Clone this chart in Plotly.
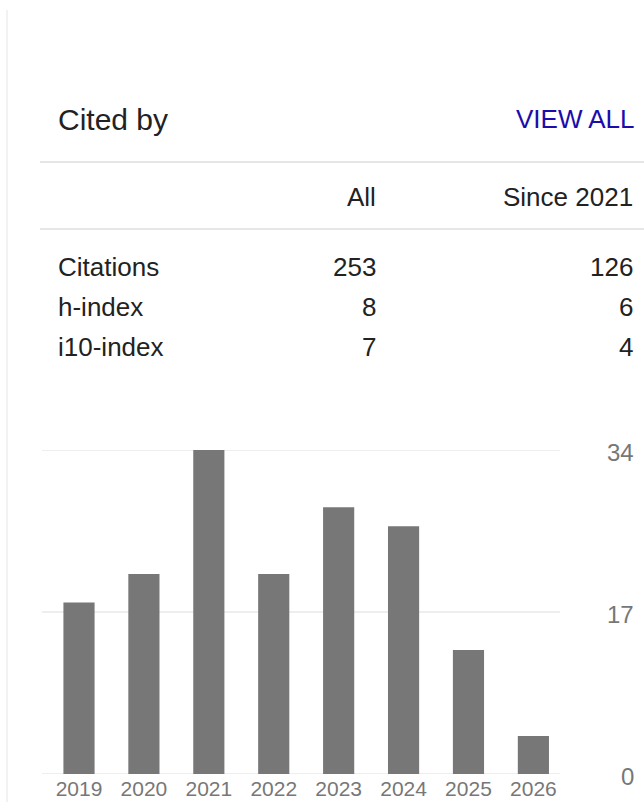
import plotly.graph_objects as go

# ---- data ----
years = ["2019", "2020", "2021", "2022", "2023", "2024", "2025", "2026"]
citations_per_year = [18, 21, 34, 21, 28, 26, 13, 4]
y_ticks = [0, 17, 34]

header_cols = ["All", "Since 2021"]
row_labels = ["Citations", "h-index", "i10-index"]
all_vals = ["253", "8", "7"]
since_vals = ["126", "6", "4"]

# ---- layout geometry (pixels) ----
W, H = 644, 802
L, R = 42, 560          # plot area x extent
T, B = 450, 774         # plot area y extent (34 -> T, 0 -> B)
FONT = "Arial, Liberation Sans, sans-serif"


def px(x):
    return (x - L) / (R - L)


def py(y):
    return (B - y) / (B - T)


fig = go.Figure()
fig.add_trace(go.Bar(
    x=list(range(len(years))),
    y=citations_per_year,
    marker=dict(color="#777777", line=dict(width=0)),
    width=0.48,
    hoverinfo="x+y",
))

annotations = []


def txt(text, x, y, size, color="#222222", anchor="left"):
    annotations.append(dict(
        text=text, x=px(x), y=py(y), xref="paper", yref="paper",
        xanchor=anchor, yanchor="middle", showarrow=False,
        font=dict(family=FONT, size=size, color=color),
    ))


txt("Cited by", 56, 119, 30)
txt("VIEW ALL", 637, 119, 26, color="#1a0dab", anchor="right")
txt(header_cols[0], 378, 197, 26, anchor="right")
txt(header_cols[1], 635, 197, 26, anchor="right")
row_y = [267, 307, 347]
for lab, a, s, yy in zip(row_labels, all_vals, since_vals, row_y):
    txt(lab, 56, yy, 26)
    txt(a, 378, yy, 26, anchor="right")
    txt(s, 635, yy, 26, anchor="right")

# y-axis labels (right-aligned at right edge)
for v in y_ticks:
    annotations.append(dict(
        text=str(v), x=px(636), y=v, xref="paper", yref="y",
        xanchor="right", yanchor="middle", yshift=-2, showarrow=False,
        font=dict(family=FONT, size=24, color="#777777"),
    ))

shapes = [
    dict(type="line", xref="paper", yref="paper", x0=px(40), x1=px(650),
         y0=py(162), y1=py(162), line=dict(color="#e6e6e6", width=2)),
    dict(type="line", xref="paper", yref="paper", x0=px(40), x1=px(650),
         y0=py(229), y1=py(229), line=dict(color="#e6e6e6", width=2)),
    dict(type="line", xref="paper", yref="paper", x0=px(7), x1=px(7),
         y0=py(10), y1=py(810), line=dict(color="#eeeeee", width=1.5)),
]
# gridlines at each y tick
for v in y_ticks:
    shapes.append(dict(type="line", xref="paper", yref="y", x0=0, x1=1,
                       y0=v, y1=v, layer="below",
                       line=dict(color="#eeeeee", width=2)))

fig.update_layout(
    width=W, height=H,
    margin=dict(l=L, r=W - R, t=T, b=H - B, pad=0, autoexpand=False),
    paper_bgcolor="white", plot_bgcolor="white",
    showlegend=False,
    annotations=annotations,
    shapes=shapes,
    bargap=0.52,
    font=dict(family=FONT),
)
fig.update_xaxes(
    range=[-0.57, 7.41],
    tickmode="array", tickvals=list(range(len(years))), ticktext=years,
    tickfont=dict(family=FONT, size=21, color="#777777"),
    showgrid=False, zeroline=False, showline=False, ticks="",
    automargin=False, fixedrange=True,
)
fig.update_yaxes(
    range=[0, 34],
    tickmode="array", tickvals=y_ticks,
    showticklabels=False,
    showgrid=False,
    zeroline=False, showline=False, ticks="",
    automargin=False, fixedrange=True,
)

fig.write_html(
    "out.html",
    config={"displayModeBar": False},
    post_script="document.body.style.margin='0';document.body.style.overflow='hidden';",
)
